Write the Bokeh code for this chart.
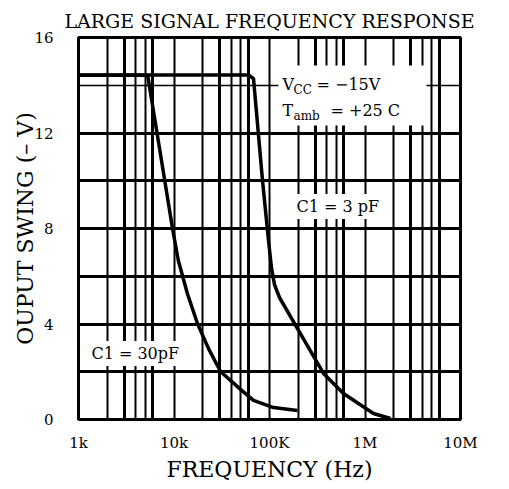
from bokeh.plotting import figure
from bokeh.models import Range1d, FixedTicker, Grid, Label, BoxAnnotation
from bokeh.embed import file_html
from bokeh.resources import INLINE

# ---- data ----
freq_30pf = [1000, 5300, 9650, 11100, 13800, 17600, 23000, 30700, 49700, 68000, 110000, 196000]
swing_30pf = [14.42, 14.42, 8.0, 6.66, 5.28, 4.02, 2.97, 2.01, 1.26, 0.80, 0.50, 0.38]

freq_3pf = [1000, 60300, 68000, 84500, 97600, 105000, 112800, 127200, 196400,
            367700, 595000, 1227000, 1849000]
swing_3pf = [14.43, 14.43, 14.28, 10.01, 7.50, 6.33, 5.65, 5.11, 3.81,
             1.93, 1.09, 0.25, 0.04]

x_ticks = [1e3, 1e4, 1e5, 1e6, 1e7]
x_tick_labels = ["1k", "10k", "100K", "1M", "10M"]
y_ticks = [0, 4, 8, 12, 16]

decades = [1e3, 1e4, 1e5, 1e6]
thin_mult = [2, 4, 5]
thick_mult = [3, 6]
h_thick = [2, 4, 6, 8, 10, 12]
h_thin = [14]

SERIF = "DejaVu Serif"

p = figure(
    frame_width=382, frame_height=382,
    x_axis_type="log",
    x_range=Range1d(1e3, 1e7), y_range=Range1d(0, 16),
    output_backend="svg", toolbar_location=None,
    min_border_left=78, min_border_right=41, min_border_top=37, min_border_bottom=60,
    background_fill_color="white", border_fill_color="white",
)

p.title.text = "LARGE SIGNAL FREQUENCY RESPONSE"
p.title.align = "center"
p.title.text_font = SERIF
p.title.text_font_size = "19px"
p.title.text_font_style = "normal"
p.title.text_color = "black"
p.title.standoff = 12

p.outline_line_color = "black"
p.outline_line_width = 3

p.xgrid.visible = False
p.ygrid.visible = False

# grid lines
v_thin = [d * m for d in decades for m in thin_mult] + [1e4, 1e5, 1e6]
v_thick = [d * m for d in decades for m in thick_mult]
p.add_layout(Grid(dimension=0, ticker=FixedTicker(ticks=v_thin), grid_line_color="black", grid_line_width=2))
p.add_layout(Grid(dimension=0, ticker=FixedTicker(ticks=v_thick), grid_line_color="black", grid_line_width=3))
p.add_layout(Grid(dimension=1, ticker=FixedTicker(ticks=h_thick), grid_line_color="black", grid_line_width=3))
p.add_layout(Grid(dimension=1, ticker=FixedTicker(ticks=h_thin), grid_line_color="black", grid_line_width=1.5))

# axes
for ax in (p.xaxis[0], p.yaxis[0]):
    ax.axis_line_color = None
    ax.major_tick_line_color = None
    ax.minor_tick_line_color = None
    ax.major_label_text_font = SERIF
    ax.major_label_text_font_size = "15px"
    ax.major_label_text_color = "black"
    ax.axis_label_text_font = SERIF
    ax.axis_label_text_font_size = "22px"
    ax.axis_label_text_font_style = "normal"
    ax.axis_label_text_color = "black"

p.xaxis.ticker = FixedTicker(ticks=x_ticks)
p.xaxis.major_label_overrides = {float(t): s for t, s in zip(x_ticks, x_tick_labels)}
p.xaxis.major_label_standoff = 8
p.xaxis.axis_label = "FREQUENCY (Hz)"
p.xaxis.axis_label_standoff = 2

p.yaxis.ticker = FixedTicker(ticks=y_ticks)
p.yaxis.major_label_standoff = 19
p.yaxis.axis_label = "OUPUT SWING (– V)"
p.yaxis.axis_label_standoff = -7

# curves
p.line(freq_30pf, swing_30pf, line_color="black", line_width=3.5, line_join="round")
p.line(freq_3pf, swing_3pf, line_color="black", line_width=3.5, line_join="round")

# annotation box for supply conditions
p.add_layout(BoxAnnotation(left=124000, right=4.4e6, bottom=12.31, top=14.83,
                           fill_color="white", fill_alpha=1.0, line_color=None))

def lab(x, y, text, size="16px", xo=0, yo=0, bg=None):
    kw = {}
    if bg:
        kw = dict(background_fill_color=bg, padding=3)
    p.add_layout(Label(x=x, y=y, text=text, x_offset=xo, y_offset=yo,
                       text_font=SERIF, text_font_size=size, text_color="black",
                       text_align="left", text_baseline="middle", **kw))

ax0 = 136800
lab(ax0, 14.03, "V")
lab(ax0, 14.03, "CC", size="12px", xo=11, yo=-5)
lab(ax0, 14.03, "= −15V", xo=34)
lab(ax0, 12.94, "T")
lab(ax0, 12.94, "amb", size="12px", xo=11, yo=-5)
lab(ax0, 12.94, "= +25  C", xo=48)

lab(178000, 8.92, "C1 = 3 pF", bg="white")
lab(1270, 2.76, "C1 = 30pF", bg="white")

open("out.html", "w").write(file_html(p, INLINE))
